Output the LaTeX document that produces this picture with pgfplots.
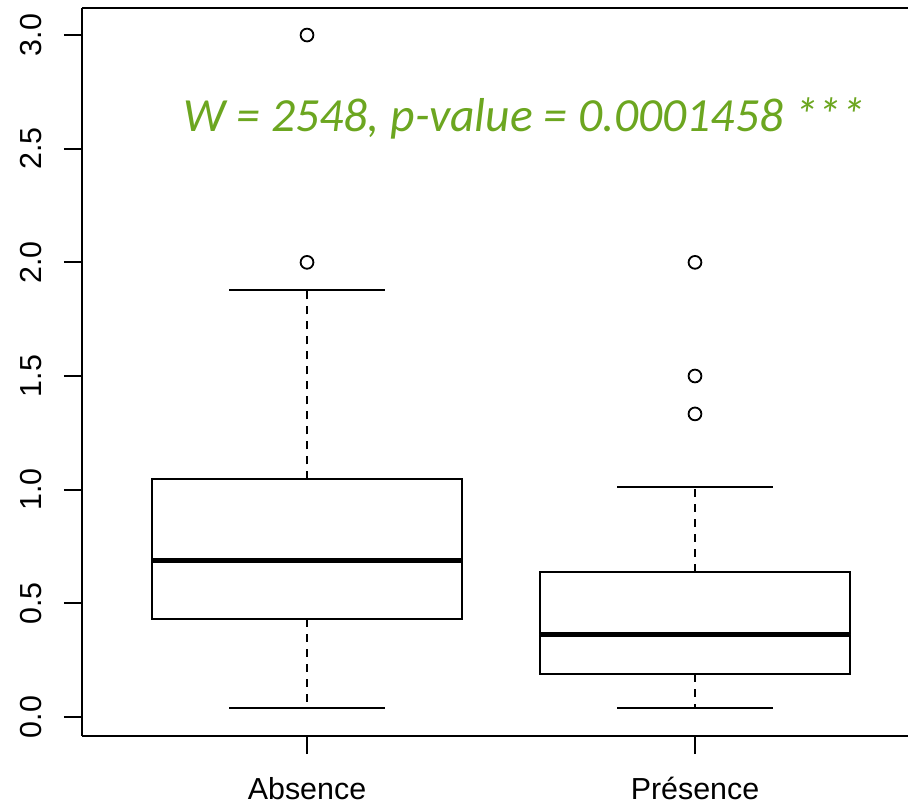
\documentclass[border=0pt]{standalone}
\usepackage{fontspec}
\setmainfont{Liberation Sans}
\newfontfamily\calfont{Carlito}
\usepackage{pgfplots}
\pgfplotsset{compat=1.18}
\usepgfplotslibrary{statistics}
\definecolor{annot}{RGB}{108,166,32}
\pgfplotsset{
  boxplot/draw/lower whisker/.code={%
    \draw[/pgfplots/boxplot/every whisker/.try, dash pattern=on 4pt off 3.5pt]
      (boxplot cs:\pgfplotsboxplotvalue{lower quartile}) -- (boxplot cs:\pgfplotsboxplotvalue{lower whisker});
    \draw[/pgfplots/boxplot/every whisker/.try]
      (boxplot whisker cs:\pgfplotsboxplotvalue{lower whisker},0) -- (boxplot whisker cs:\pgfplotsboxplotvalue{lower whisker},1);
  },
  boxplot/draw/upper whisker/.code={%
    \draw[/pgfplots/boxplot/every whisker/.try, dash pattern=on 4pt off 3.5pt]
      (boxplot cs:\pgfplotsboxplotvalue{upper quartile}) -- (boxplot cs:\pgfplotsboxplotvalue{upper whisker});
    \draw[/pgfplots/boxplot/every whisker/.try]
      (boxplot whisker cs:\pgfplotsboxplotvalue{upper whisker},0) -- (boxplot whisker cs:\pgfplotsboxplotvalue{upper whisker},1);
  },
}
\begin{document}
\begin{tikzpicture}
\begin{axis}[
  name=ax,
  at={(0,0)}, anchor=south west,
  scale only axis,
  width=419pt, height=364pt,
  xmin=0.42, xmax=2.58,
  ymin=-0.0836, ymax=3.119,
  axis lines*=left,
  axis line style={line width=1pt, -},
  tick style={line width=1pt, black},
  major tick length=9pt,
  tick align=outside,
  tick pos=left,
  xtick={1,2},
  xticklabels={Absence, Présence},
  ytick={0,0.5,1,1.5,2,2.5,3},
  yticklabel shift=7.5pt,
  yticklabel style={rotate=90, anchor=south, font=\fontsize{15.2}{17}\selectfont},
  xticklabel style={anchor=base, yshift=-22.5pt, font=\fontsize{15.2}{17}\selectfont},
  /pgf/number format/.cd, fixed, fixed zerofill, precision=1, assume math mode=true,
  /pgfplots/.cd,
  boxplot/draw direction=y,
  boxplot/box extend=0.8,
  boxplot/whisker extend=0.4,
  boxplot/every median/.style={line width=2.5pt},
  clip=false,
]
\addplot[black, line width=1pt, fill=white, mark=o, mark size=3.2pt,
  mark options={solid, line width=0.9pt, fill=none},
  boxplot prepared={draw position=1, lower whisker=0.04, lower quartile=0.43,
    median=0.69, upper quartile=1.045, upper whisker=1.88}]
  coordinates {(0,2.0) (0,3.0)};
\addplot[black, line width=1pt, fill=white, mark=o, mark size=3.2pt,
  mark options={solid, line width=0.9pt, fill=none},
  boxplot prepared={draw position=2, lower whisker=0.04, lower quartile=0.188,
    median=0.365, upper quartile=0.639, upper whisker=1.013}]
  coordinates {(0,1.3333) (0,1.5) (0,2.0)};
\draw[line width=1pt] (rel axis cs:0,1) -- (rel axis cs:1,1);
\node[anchor=base, text=annot, font=\calfont\itshape\fontsize{23.8}{26}\selectfont]
  at (axis cs:1.5605,2.574) {W = 2548, p-value = 0.0001458 ***};
\end{axis}
\pgfresetboundingbox
\path[use as bounding box] (-41pt,-35pt) rectangle (413pt,368pt);
\end{tikzpicture}
\end{document}
